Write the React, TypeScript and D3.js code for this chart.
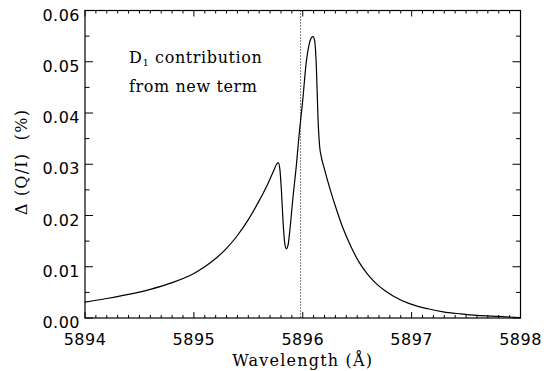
import React from "react";
import * as d3 from "d3";

const wavelength = [
  5894.0, 5894.2, 5894.4, 5894.6, 5894.8, 5895.0, 5895.1, 5895.2, 5895.3,
  5895.4, 5895.5, 5895.6, 5895.68, 5895.73, 5895.76, 5895.775, 5895.79, 5895.805, 5895.82,
  5895.835, 5895.85, 5895.865, 5895.88, 5895.91, 5895.94, 5895.97, 5896.0, 5896.03, 5896.06,
  5896.08, 5896.095, 5896.11, 5896.125, 5896.14, 5896.155, 5896.17, 5896.2, 5896.25, 5896.3,
  5896.37, 5896.45, 5896.52, 5896.6, 5896.68, 5896.75, 5896.83, 5896.98, 5897.15, 5897.29,
  5897.45, 5897.6, 5897.8, 5898.0,
];
const deltaQI = [
  0.0031, 0.0038, 0.0046, 0.0056, 0.0069, 0.0087, 0.0100, 0.0116, 0.0136,
  0.0161, 0.0192, 0.0229, 0.0262, 0.0286, 0.0300, 0.0303, 0.0290, 0.0245, 0.0185,
  0.0145, 0.0135, 0.0142, 0.0168, 0.0235, 0.0295, 0.0365, 0.0425, 0.0495, 0.0535,
  0.0547, 0.0549, 0.0540, 0.0490, 0.0390, 0.0335, 0.0315, 0.0290, 0.0252, 0.0218,
  0.0175, 0.0136, 0.0108, 0.0084, 0.0066, 0.0054, 0.0043, 0.0028, 0.0018, 0.0012,
  0.0008, 0.0005, 0.0003, 0.0001,
];
const xTicks = [5894, 5895, 5896, 5897, 5898];
const yTicks = [0.0, 0.01, 0.02, 0.03, 0.04, 0.05, 0.06];
const refLine = 5895.98;
const noteLines = ["contribution", "from new term"];

export default function App() {
  const W = 549, H = 371;
  const L = 85, R = 520.5, T = 10.5, B = 318;
  const x = d3.scaleLinear().domain([5894, 5898]).range([L, R]);
  const y = d3.scaleLinear().domain([0, 0.06]).range([B, T]);
  const pts = wavelength.map((w, i) => [w, deltaQI[i]] as [number, number]);
  const line = d3
    .line<[number, number]>()
    .x((d) => x(d[0]))
    .y((d) => y(d[1]))
    .curve(d3.curveMonotoneX);

  const xMinor = d3.range(5894, 5898.001, 0.1).map((v) => +v.toFixed(2));
  const yMinor = d3.range(0, 0.0601, 0.005).map((v) => +v.toFixed(4));
  const tickFont = "DejaVu Sans";
  const textFont = "DejaVu Serif";
  const fmtY = (v: number) => v.toFixed(2);

  return (
    <svg
      width={W}
      height={H}
      style={{ position: "absolute", left: 0, top: 0, background: "#fff" }}
    >
      <rect x={0} y={0} width={W} height={H} fill="#fff" />
      {xMinor.map((v, i) => {
        const major = Math.abs(v - Math.round(v)) < 1e-6;
        const len = major ? 6 : 3;
        return (
          <g key={"xm" + i} stroke="#000" strokeWidth={1}>
            <line x1={x(v)} x2={x(v)} y1={B} y2={B - len} />
            <line x1={x(v)} x2={x(v)} y1={T} y2={T + len} />
          </g>
        );
      })}
      {yMinor.map((v, i) => {
        const major = Math.abs(v * 100 - Math.round(v * 100)) < 1e-6;
        const len = major ? 8 : 4.5;
        return (
          <g key={"ym" + i} stroke="#000" strokeWidth={1}>
            <line x1={L} x2={L + len} y1={y(v)} y2={y(v)} />
            <line x1={R} x2={R - len} y1={y(v)} y2={y(v)} />
          </g>
        );
      })}
      <rect x={L} y={T} width={R - L} height={B - T} fill="none" stroke="#000" strokeWidth={1.2} />
      <line
        x1={x(refLine)}
        x2={x(refLine)}
        y1={T}
        y2={B}
        stroke="#000"
        strokeWidth={1}
        strokeDasharray="1 2"
      />
      <path d={line(pts) || ""} fill="none" stroke="#000" strokeWidth={1.2} />
      {xTicks.map((v) => (
        <text
          key={"xt" + v}
          x={x(v)}
          y={345}
          textAnchor="middle"
          fontFamily={tickFont}
          fontSize={16}
          letterSpacing={0.5}
          fill="#000"
        >
          {v}
        </text>
      ))}
      {yTicks.map((v) => (
        <text
          key={"yt" + v}
          x={80}
          y={y(v) + 10}
          textAnchor="end"
          fontFamily={tickFont}
          fontSize={16}
          letterSpacing={0.5}
          fill="#000"
        >
          {fmtY(v)}
        </text>
      ))}
      <text
        x={(L + R) / 2}
        y={366}
        textAnchor="middle"
        fontFamily={textFont}
        fontSize={16}
        letterSpacing={1.2}
        fill="#000"
      >
        Wavelength (Å)
      </text>
      <text
        transform={`translate(27,162) rotate(-90)`}
        textAnchor="middle"
        fontFamily={textFont}
        fontSize={16}
        letterSpacing={1.2}
        fill="#000"
        style={{ whiteSpace: "pre" }}
      >
        {"Δ (Q/I)  (%)"}
      </text>
      <text x={129} y={63} fontFamily={textFont} fontSize={16} letterSpacing={0.6} fill="#000" style={{ whiteSpace: "pre" }}>
        D
        <tspan fontSize={10} dy={3}>1</tspan>
        <tspan dy={-3}>{" " + noteLines[0]}</tspan>
      </text>
      <text x={129} y={92} fontFamily={textFont} fontSize={16} letterSpacing={0.6} fill="#000">
        {noteLines[1]}
      </text>
    </svg>
  );
}
